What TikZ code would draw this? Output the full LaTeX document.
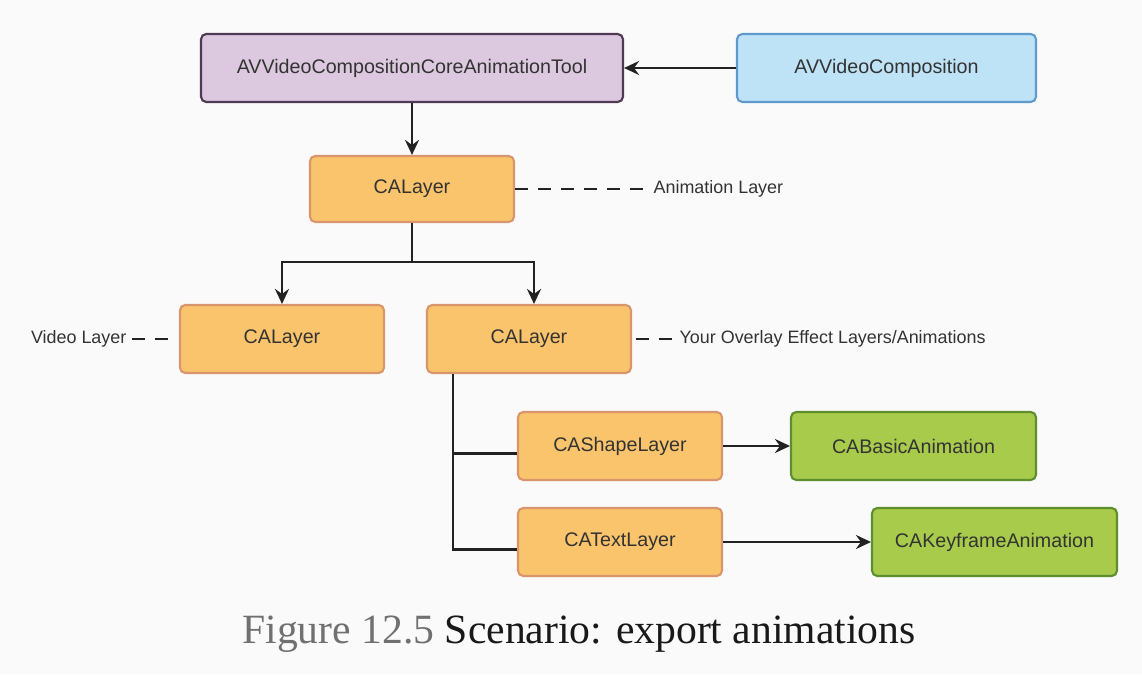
\documentclass[tikz,border=0pt]{standalone}
\usepackage{fontspec}
\setmainfont{Liberation Serif}
\setsansfont{Liberation Sans}
\usetikzlibrary{arrows.meta}
\definecolor{hgrund}{HTML}{FAFAFA}
\definecolor{lila}{HTML}{DCC8DF}
\definecolor{lilar}{HTML}{4E3A55}
\definecolor{blau}{HTML}{BEE2F6}
\definecolor{blaur}{HTML}{5F9ACF}
\definecolor{gelb}{HTML}{FAC46C}
\definecolor{gelbr}{HTML}{D9956B}
\definecolor{gruen}{HTML}{A8CB4C}
\definecolor{gruenr}{HTML}{5E8F2F}
\definecolor{schrift}{HTML}{333333}
\definecolor{strichf}{HTML}{222222}
\definecolor{hgrau}{HTML}{707070}
\tikzset{
  kasten/.style={rounded corners=3pt,line width=1.2pt,minimum height=1.36cm,inner sep=0pt,
    font=\sffamily\fontsize{11.2}{13}\selectfont,text=schrift},
  werkzeug/.style={kasten,fill=lila,draw=lilar,minimum width=8.44cm},
  kompo/.style={kasten,fill=blau,draw=blaur,minimum width=5.98cm},
  ebene/.style={kasten,fill=gelb,draw=gelbr,minimum width=4.08cm},
  anima/.style={kasten,fill=gruen,draw=gruenr,minimum width=4.9cm},
  notiz/.style={font=\sffamily\fontsize{10.2}{12}\selectfont,text=schrift,inner sep=3pt},
  linie/.style={strichf,line width=1.6pt},
  pfeil/.style={-{Stealth[length=3mm,width=2.8mm,inset=1mm]},strichf,line width=1.6pt},
  strich/.style={strichf,line width=1.6pt,dash pattern=on 7.4pt off 5.7pt},
}
\begin{document}
\begin{tikzpicture}
  \path[fill=hgrund,use as bounding box] (0,0) rectangle (22.84,13.48);
  \node[werkzeug] (tool) at (8.24,12.12) {AVVideoCompositionCoreAnimationTool};
  \node[kompo] (comp) at (17.73,12.12) {AVVideoComposition};
  \node[ebene,minimum height=1.32cm] (anim) at (8.24,9.7) {CALayer};
  \node[ebene] (video) at (5.64,6.7) {CALayer};
  \node[ebene] (overlay) at (10.58,6.7) {CALayer};
  \node[ebene] (shape) at (12.4,4.56) {CAShapeLayer};
  \node[ebene] (txt) at (12.4,2.64) {CATextLayer};
  \node[anima] (basic) at (18.27,4.56) {CABasicAnimation};
  \node[anima] (key) at (19.89,2.64) {CAKeyframeAnimation};
  \node[notiz,anchor=west] (lanim) at (12.96,9.7) {Animation Layer};
  \node[notiz,anchor=east] (lvideo) at (2.64,6.7) {Video Layer};
  \node[notiz,anchor=west] (loverlay) at (13.48,6.7) {Your Overlay Effect Layers/Animations};
  \node[anchor=base,font=\fontsize{23.7}{28}\selectfont,text=black!90] (cap) at (11.58,0.62)
    {\textcolor{hgrau}{Figure 12.5} Scenario: export animations};
  \coordinate (ast) at (8.24,8.24);
  \coordinate (stamm) at (9.06,0);
  \draw[pfeil] (comp) -- (tool);
  \draw[pfeil] (tool) -- (anim);
  \draw[linie] (anim) -- (ast);
  \draw[pfeil] (ast) -| (video);
  \draw[pfeil] (ast) -| ([xshift=0.1cm]overlay.north);
  \draw[strich] (anim) -- (lanim);
  \draw[strich] (lvideo) -- ([xshift=-2pt]video.west);
  \draw[strich] ([xshift=2pt]overlay.east) -- (loverlay);
  \draw[linie] (overlay.south -| stamm) |- ([yshift=-0.15cm]txt.west);
  \draw[linie] ([yshift=-0.15cm]shape.west) -- ([yshift=-0.15cm]shape.west -| stamm);
  \draw[pfeil] (shape) -- (basic);
  \draw[pfeil] (txt) -- (key);
\end{tikzpicture}
\end{document}
